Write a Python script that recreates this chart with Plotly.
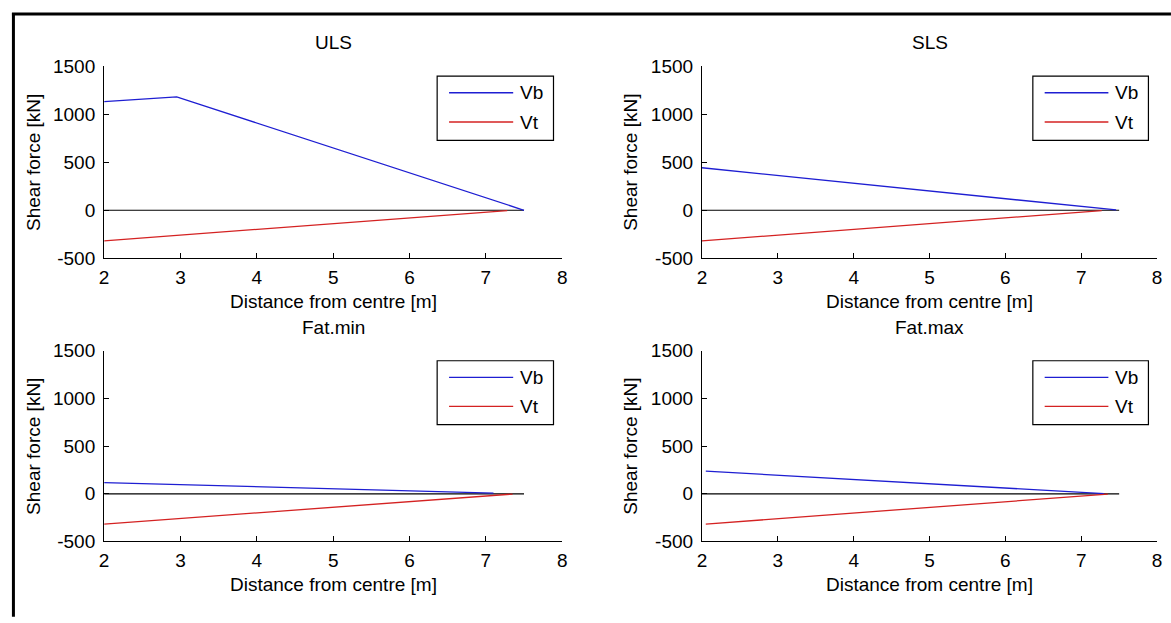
import plotly.graph_objects as go

W, H = 1171, 623

# ---------------- data ----------------
panel_titles = ["ULS", "SLS", "Fat.min", "Fat.max"]
series_names = ["Vb", "Vt"]

uls_vb_x = [2.0, 2.95, 7.5]
uls_vb_y = [1130, 1180, 0]
uls_vt_x = [2.0, 7.28]
uls_vt_y = [-318, -3]

sls_vb_x = [2.0, 7.46]
sls_vb_y = [442, 3]
sls_vt_x = [2.0, 7.27]
sls_vt_y = [-318, -3]

fmin_vb_x = [2.0, 7.1]
fmin_vb_y = [118, 8]
fmin_vt_x = [2.0, 7.35]
fmin_vt_y = [-318, -3]

fmax_vb_x = [2.05, 7.3]
fmax_vb_y = [238, 2]
fmax_vt_x = [2.05, 7.35]
fmax_vt_y = [-318, -3]

zero_x = [2.0, 7.5]
zero_y = [0, 0]

x_ticks = [2, 3, 4, 5, 6, 7, 8]
y_ticks = [-500, 0, 500, 1000, 1500]
x_label = "Distance from centre [m]"
y_label = "Shear force [kN]"

panels = [
    (uls_vb_x, uls_vb_y, uls_vt_x, uls_vt_y),
    (sls_vb_x, sls_vb_y, sls_vt_x, sls_vt_y),
    (fmin_vb_x, fmin_vb_y, fmin_vt_x, fmin_vt_y),
    (fmax_vb_x, fmax_vb_y, fmax_vt_x, fmax_vt_y),
]

# ---------------- style ----------------
FONT = "Liberation Sans, Arial, Helvetica, sans-serif"
FS = 19
BLUE = "#1e1ed2"
RED = "#d42222"


def px(p):
    return p / W


def py(p):
    return 1 - p / H


col_px = [(100, 562), (703, 1162)]
row_px = [(58, 257), (352.7, 550)]

fig = go.Figure()
annotations = []
shapes = []

for i, (vbx, vby, vtx, vty) in enumerate(panels):
    r, c = divmod(i, 2)
    n = "" if i == 0 else str(i + 1)
    xa, ya = "x" + n, "y" + n
    x0, x1 = col_px[c]
    y0, y1 = row_px[r]

    fig.add_trace(go.Scatter(x=zero_x, y=zero_y, mode="lines",
                             line=dict(color="black", width=1.2),
                             xaxis=xa, yaxis=ya, showlegend=False, hoverinfo="skip"))
    fig.add_trace(go.Scatter(x=vbx, y=vby, mode="lines", name=series_names[0],
                             line=dict(color=BLUE, width=1.3),
                             xaxis=xa, yaxis=ya, showlegend=False))
    fig.add_trace(go.Scatter(x=vtx, y=vty, mode="lines", name=series_names[1],
                             line=dict(color=RED, width=1.3),
                             xaxis=xa, yaxis=ya, showlegend=False))

    axis_common = dict(showline=True, linecolor="black", linewidth=1.2,
                       ticks="inside", ticklen=5, tickcolor="black", tickwidth=1,
                       showgrid=False, zeroline=False,
                       tickfont=dict(family=FONT, size=FS, color="black"),
                       fixedrange=True)
    fig.update_layout(**{
        "xaxis" + n: dict(domain=[px(x0), px(x1)], anchor=ya, range=[2, 8],
                          tickmode="array", tickvals=x_ticks,
                          ticktext=[str(t) for t in x_ticks],
                          ticklabelstandoff=2, **axis_common),
        "yaxis" + n: dict(domain=[py(y1), py(y0)], anchor=xa, range=[-500, 1500],
                          tickmode="array", tickvals=y_ticks,
                          ticktext=[str(t) for t in y_ticks],
                          ticklabelstandoff=4, **axis_common),
    })

    xc = (x0 + x1) / 2
    # panel title
    annotations.append(dict(text=panel_titles[i], x=px(xc), y=py(y0 - 24),
                            xref="paper", yref="paper", xanchor="center", yanchor="middle",
                            showarrow=False, font=dict(family=FONT, size=FS, color="black")))
    # x-axis title
    annotations.append(dict(text=x_label, x=px(xc), y=py(y1 + 45),
                            xref="paper", yref="paper", xanchor="center", yanchor="middle",
                            showarrow=False, font=dict(family=FONT, size=FS, color="black")))
    # y-axis title
    annotations.append(dict(text=y_label, x=px(x0 - 72), y=py((y0 + y1) / 2),
                            xref="paper", yref="paper", xanchor="center", yanchor="middle",
                            textangle=-90, showarrow=False,
                            font=dict(family=FONT, size=FS, color="black")))

    # legend box (drawn in axis-domain coordinates)
    xd, yd = xa + " domain", ya + " domain"
    shapes.append(dict(type="rect", xref=xd, yref=yd, x0=0.727, x1=0.981,
                       y0=0.613, y1=0.948, line=dict(color="black", width=1.2),
                       fillcolor="white", layer="above"))
    for name, color, yy in [(series_names[0], BLUE, 0.861), (series_names[1], RED, 0.709)]:
        shapes.append(dict(type="line", xref=xd, yref=yd, x0=0.753, x1=0.893,
                           y0=yy, y1=yy, line=dict(color=color, width=1.3), layer="above"))
        annotations.append(dict(text=name, xref=xd, yref=yd, x=0.903, y=yy,
                                xanchor="left", yanchor="middle", showarrow=False,
                                font=dict(family=FONT, size=FS, color="black")))

# figure frame (left and top edges)
shapes.append(dict(type="line", xref="paper", yref="paper", x0=px(8.5), x1=px(8.5),
                   y0=py(3), y1=py(H + 5), line=dict(color="black", width=3)))
shapes.append(dict(type="line", xref="paper", yref="paper", x0=px(7), x1=px(W + 5),
                   y0=py(4.2), y1=py(4.2), line=dict(color="black", width=3)))

fig.update_layout(width=W, height=H, margin=dict(l=0, r=0, t=0, b=0),
                  paper_bgcolor="white", plot_bgcolor="white",
                  showlegend=False, annotations=annotations, shapes=shapes)

fig.write_html(
    "out.html",
    config={"displayModeBar": False},
    post_script="document.documentElement.style.margin='0';"
                "document.body.style.margin='0';"
                "document.body.style.overflow='hidden';",
)
